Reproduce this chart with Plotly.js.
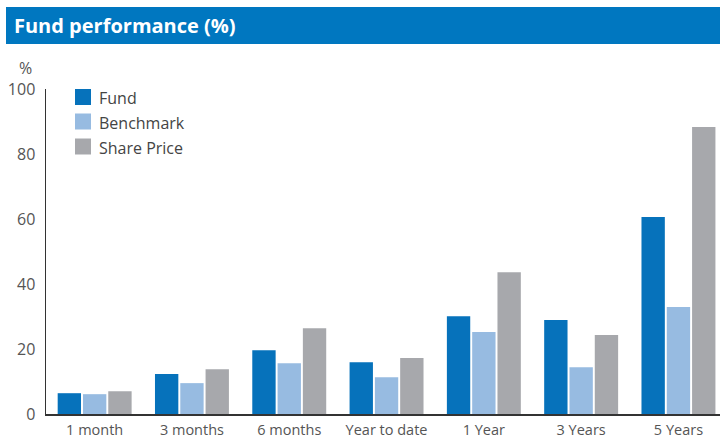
<!DOCTYPE html>
<html>
<head>
<meta charset="utf-8">
<script src="https://cdn.plot.ly/plotly-3.0.1.min.js"></script>
<style>html,body{margin:0;padding:0;background:#fff;}#chart{width:720px;height:439px;}</style>
</head>
<body>
<div id="chart"></div>
<script>
var categories = ["1 month", "3 months", "6 months", "Year to date", "1 Year", "3 Years", "5 Years"];
var seriesNames = ["Fund", "Benchmark", "Share Price"];
var seriesColors = ["#0672bb", "#97bbe1", "#a7a8ac"];
var fundValues = [6.4, 12.3, 19.6, 15.9, 30.1, 28.9, 60.6];
var benchmarkValues = [6.1, 9.5, 15.6, 11.3, 25.2, 14.4, 32.9];
var sharePriceValues = [7.0, 13.8, 26.4, 17.2, 43.6, 24.3, 88.3];
var yTicks = [0, 20, 40, 60, 80, 100];

var seriesValues = [fundValues, benchmarkValues, sharePriceValues];
var traces = seriesValues.map(function (vals, i) {
  return {type: "bar", name: seriesNames[i], x: categories, y: vals, marker: {color: seriesColors[i]}};
});

// plot area geometry in pixels (for placing decorations)
var L = 46, T = 89, W = 674, H = 325;
function px(x) { return (x - L) / W; }
function py(y) { return (T + H - y) / H; }

var shapes = [
  {type: "rect", xref: "paper", yref: "paper", x0: px(6), x1: 1.0, y0: py(44), y1: py(7),
   fillcolor: "#0077c0", line: {width: 0}, layer: "below"}
];
var annotations = [
  {text: "%", xref: "paper", yref: "paper", x: px(25), y: py(68), xanchor: "center", yanchor: "middle",
   showarrow: false, font: {size: 16, color: "#555555"}}
];
var legendY = [97, 121.5, 146.5];
seriesNames.forEach(function (nm, i) {
  shapes.push({type: "rect", xref: "paper", yref: "paper", x0: px(75), x1: px(91),
               y0: py(legendY[i] + 8), y1: py(legendY[i] - 8),
               fillcolor: seriesColors[i], line: {width: 0}});
  annotations.push({text: nm, xref: "paper", yref: "paper", x: px(97), y: py(legendY[i] + 1),
                    xanchor: "left", yanchor: "middle", showarrow: false,
                    font: {size: 16, color: "#444444"}});
});

var layout = {
  width: 720, height: 439,
  margin: {l: L, r: 720 - L - W, t: T, b: 439 - T - H},
  paper_bgcolor: "#ffffff", plot_bgcolor: "#ffffff",
  font: {family: "Open Sans, sans-serif", color: "#555555"},
  barmode: "group",
  bargap: 0.22,
  bargroupgap: 0.077,
  showlegend: false,
  title: {text: "<b>Fund performance (%)</b>", font: {family: "Open Sans, sans-serif", size: 20, color: "#ffffff"},
          x: 14/720, xanchor: "left", xref: "container", y: 1 - 26/439, yanchor: "middle", yref: "container"},
  xaxis: {type: "category", range: [-0.5, 6.427], showgrid: false, zeroline: false,
          showline: true, linecolor: "#333333", linewidth: 1.5, ticks: "",
          ticklabelstandoff: 2,
          tickfont: {size: 14.5, color: "#555555"}, fixedrange: true},
  yaxis: {range: [0, 100], tickvals: yTicks, showgrid: false, zeroline: false,
          showline: true, linecolor: "#333333", linewidth: 1.5, ticks: "",
          ticklabelstandoff: 6,
          tickfont: {size: 16, color: "#555555"}, fixedrange: true},
  shapes: shapes,
  annotations: annotations
};

Plotly.newPlot("chart", traces, layout, {displayModeBar: false, staticPlot: true});
</script>
</body>
</html>
